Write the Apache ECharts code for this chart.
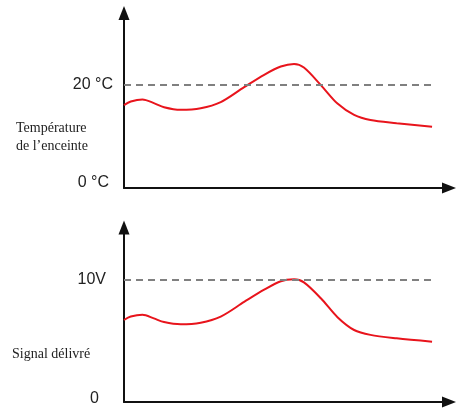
<!DOCTYPE html>
<html>
<head>
<meta charset="utf-8">
<script src="https://cdn.jsdelivr.net/npm/echarts@6/dist/echarts.min.js"></script>
<style>html,body{margin:0;padding:0;background:#fff}#c{width:456px;height:408px}</style>
</head>
<body>
<div id="c"></div>
<script>
// time axis (arbitrary units)
const timeTop = [0, 2.2, 6.0, 9.7, 13, 18.4, 24.9, 31.4, 39, 45.5, 50.9, 55.2, 58.4, 63.9, 69.3, 74.7, 80, 88.5, 100];
const temperature = [16.1, 16.8, 17.2, 16.5, 15.7, 15.2, 15.5, 16.7, 19.6, 22.0, 23.6, 24.1, 23.4, 20.0, 16.4, 14.2, 13.2, 12.6, 11.9];
const timeBottom = [0, 2.2, 6.0, 9.7, 13, 18.4, 24.9, 31.4, 39, 45.5, 50.9, 55.2, 58.4, 63.9, 69.3, 74.7, 80, 88.5, 100];
const signal = [6.72, 7.0, 7.15, 6.85, 6.55, 6.37, 6.5, 7.0, 8.2, 9.2, 9.9, 10.05, 9.8, 8.5, 6.95, 5.9, 5.5, 5.22, 4.94];
const tempTicks = [0, 20];
const tempTickLabels = ['0 °C', '20 °C'];
const signalTicks = [0, 10];
const signalTickLabels = ['0', '10V'];
const tempRef = 20;
const signalRef = 10;
const tempAxisName = ['Température', 'de l’enceinte'];
const signalAxisName = 'Signal délivré';

const chart = echarts.init(document.getElementById('c'), null, {renderer: 'canvas'});
const axisLineStyle = {color: '#111', width: 2};
const arrow = ['none', 'triangle'];
const arrowSize = [11, 14];

function labelFmt(ticks, labels) {
  return function (v) {
    const i = ticks.indexOf(v);
    if (i < 0) return '';
    return i === 0 ? '{z|' + labels[i] + '}' : labels[i];
  };
}

const option = {
  animation: false,
  grid: [
    {left: 124, right: 7, top: 13, height: 175},
    {left: 124, right: 7, top: 227.5, height: 174.5}
  ],
  xAxis: [0, 1].map(i => ({
    type: 'value', gridIndex: i, min: 0, max: 105.5,
    axisLine: {show: true, lineStyle: axisLineStyle, symbol: arrow, symbolSize: arrowSize},
    axisTick: {show: false}, axisLabel: {show: false}, splitLine: {show: false}
  })),
  yAxis: [
    {
      type: 'value', gridIndex: 0, min: 0, max: 34, interval: 20,
      axisLine: {show: true, lineStyle: axisLineStyle, symbol: arrow, symbolSize: arrowSize},
      axisTick: {show: false}, splitLine: {show: false},
      axisLabel: {
        margin: 11, color: '#222', fontSize: 16, fontFamily: 'Liberation Sans',
        formatter: labelFmt(tempTicks, tempTickLabels),
        rich: {z: {fontSize: 16, fontFamily: 'Liberation Sans', color: '#222', padding: [0, 4, 10, 0]}}
      }
    },
    {
      type: 'value', gridIndex: 1, min: 0, max: 14.3, interval: 10,
      axisLine: {show: true, lineStyle: axisLineStyle, symbol: arrow, symbolSize: arrowSize},
      axisTick: {show: false}, splitLine: {show: false},
      axisLabel: {
        margin: 18, color: '#222', fontSize: 16, fontFamily: 'Liberation Sans',
        formatter: labelFmt(signalTicks, signalTickLabels),
        rich: {z: {fontSize: 16, fontFamily: 'Liberation Sans', color: '#222', padding: [0, 7, 6, 0]}}
      }
    }
  ],
  graphic: [
    {type: 'text', left: 16, top: 119, style: {text: tempAxisName.join('\n'), font: '14px "Liberation Serif"', fill: '#222', lineHeight: 18}},
    {type: 'text', left: 12, top: 347, style: {text: signalAxisName, font: '14px "Liberation Serif"', fill: '#222'}}
  ],
  series: [
    {
      type: 'line', xAxisIndex: 0, yAxisIndex: 0, smooth: 0.3, showSymbol: false,
      data: timeTop.map((t, i) => [t, temperature[i]]),
      lineStyle: {color: '#e8141c', width: 2},
      markLine: {
        silent: true, symbol: ['none', 'none'], label: {show: false},
        lineStyle: {color: '#808080', type: [7, 5], width: 2},
        data: [[{coord: [0, tempRef]}, {coord: [100, tempRef]}]]
      }
    },
    {
      type: 'line', xAxisIndex: 1, yAxisIndex: 1, smooth: 0.3, showSymbol: false,
      data: timeBottom.map((t, i) => [t, signal[i]]),
      lineStyle: {color: '#e8141c', width: 2},
      markLine: {
        silent: true, symbol: ['none', 'none'], label: {show: false},
        lineStyle: {color: '#808080', type: [7, 5], width: 2},
        data: [[{coord: [0, signalRef]}, {coord: [100, signalRef]}]]
      }
    }
  ]
};
chart.setOption(option);
</script>
</body>
</html>
